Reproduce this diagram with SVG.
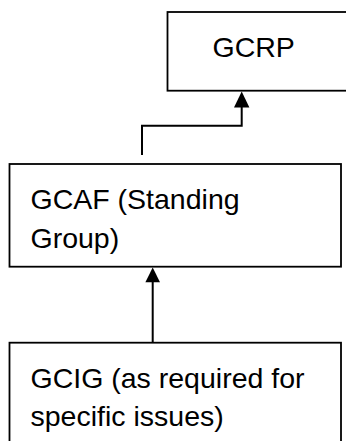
<svg xmlns="http://www.w3.org/2000/svg" width="346" height="441" viewBox="0 0 346 441">
<style>
.box{fill:#fff;stroke:#000;stroke-width:1.8}
.t{font-family:"Liberation Sans",Arial,sans-serif;font-size:28.5px;fill:#000}
.c{fill:none;stroke:#000;stroke-width:2}
.h{fill:#000}
</style>
<rect width="346" height="441" fill="#fff"/>
<g id="gcrp">
<rect class="box" x="167.5" y="12" width="200" height="78.7"/>
<text class="t" x="212.5" y="56.5">GCRP</text>
</g>
<g id="gcaf">
<rect class="box" x="9.5" y="164" width="331.5" height="102.7"/>
<text class="t" x="30.5" y="209">GCAF (Standing</text>
<text class="t" x="30.5" y="247.5">Group)</text>
</g>
<g id="gcig">
<rect class="box" x="9.5" y="342.7" width="331.5" height="120"/>
<text class="t" x="30.5" y="387.5">GCIG (as required for</text>
<text class="t" x="30.5" y="426">specific issues)</text>
</g>
<g id="connectors">
<path class="c" d="M142,155 V125.7 H241.7 V106"/>
<polygon class="h" points="241.7,91.5 234,107.5 249.4,107.5"/>
<path class="c" d="M152.7,342.7 V281"/>
<polygon class="h" points="152.7,267.5 145.4,282.3 160,282.3"/>
</g>
</svg>
